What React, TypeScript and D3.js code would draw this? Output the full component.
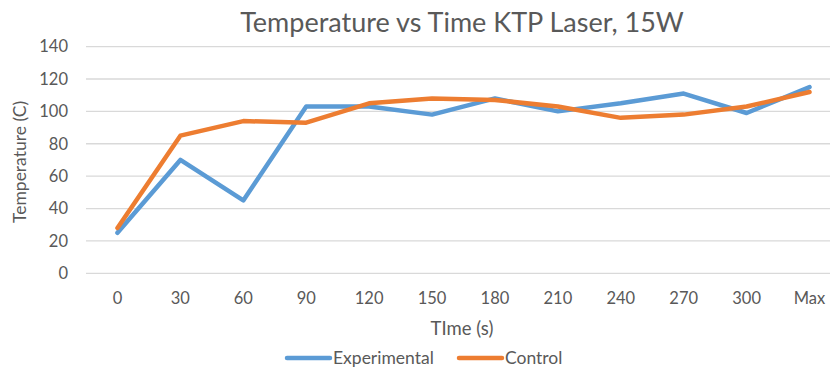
import { useRef, useEffect } from "react";
import * as d3 from "d3";

const categories = ["0", "30", "60", "90", "120", "150", "180", "210", "240", "270", "300", "Max"];
const experimental = [25, 70, 45, 103, 103, 98, 108, 100, 105, 111, 99, 115];
const control = [28, 85, 94, 93, 105, 108, 107, 103, 96, 98, 103, 112];
const yTicks = [0, 20, 40, 60, 80, 100, 120, 140];

const W = 830,
  H = 368;
const FONT = "Lato, 'Open Sans', sans-serif";
const TEXT = "#595959";

export default function App() {
  const ref = useRef<SVGSVGElement>(null);

  useEffect(() => {
    if (!ref.current) return;
    const svg = d3.select(ref.current);
    svg.selectAll("*").remove();

    const L = 86,
      R = 841,
      T = 46.6,
      B = 273.3;

    const x = d3.scaleBand().domain(categories).range([L, R]);
    const y = d3.scaleLinear().domain([0, 140]).range([B, T]);
    const cx = (c: string) => (x(c) as number) + x.bandwidth() / 2;

    // grid
    svg
      .append("g")
      .selectAll("line")
      .data(yTicks)
      .join("line")
      .attr("x1", L)
      .attr("x2", R)
      .attr("y1", (d) => y(d))
      .attr("y2", (d) => y(d))
      .attr("stroke", "#d9d9d9")
      .attr("stroke-width", 1.3);

    svg
      .append("g")
      .selectAll("text")
      .data(yTicks)
      .join("text")
      .attr("x", 68)
      .attr("y", (d) => y(d))
      .attr("dy", "0.35em")
      .attr("text-anchor", "end")
      .attr("font-family", FONT)
      .attr("font-size", 16.5)
      .attr("fill", TEXT)
      .text((d) => d);

    svg
      .append("g")
      .selectAll("text")
      .data(categories)
      .join("text")
      .attr("x", (d) => cx(d))
      .attr("y", 304)
      .attr("text-anchor", "middle")
      .attr("font-family", FONT)
      .attr("font-size", 16.5)
      .attr("fill", TEXT)
      .text((d) => d);

    const line = d3
      .line<number>()
      .x((_, i) => cx(categories[i]))
      .y((d) => y(d));

    const series = [
      { name: "Experimental", values: experimental, color: "#5b9bd5" },
      { name: "Control", values: control, color: "#ed7d31" },
    ];

    series.forEach((s) => {
      svg
        .append("path")
        .attr("d", line(s.values))
        .attr("fill", "none")
        .attr("stroke", s.color)
        .attr("stroke-width", 4.5)
        .attr("stroke-linejoin", "round")
        .attr("stroke-linecap", "round");
    });

    // titles
    svg
      .append("text")
      .attr("x", 462)
      .attr("y", 32)
      .attr("text-anchor", "middle")
      .attr("font-family", FONT)
      .attr("font-size", 27)
      .attr("fill", TEXT)
      .text("Temperature vs Time KTP Laser, 15W");

    svg
      .append("text")
      .attr("transform", `translate(26,${(T + B) / 2 + 2}) rotate(-90)`)
      .attr("text-anchor", "middle")
      .attr("font-family", FONT)
      .attr("font-size", 17.5)
      .attr("fill", TEXT)
      .text("Temperature (C)");

    svg
      .append("text")
      .attr("x", 462)
      .attr("y", 335)
      .attr("text-anchor", "middle")
      .attr("font-family", FONT)
      .attr("font-size", 18.5)
      .attr("fill", TEXT)
      .text("TIme (s)");

    // legend
    const lg = svg.append("g");
    const legendPos = [287, 459];
    series.forEach((s, i) => {
      const lx = legendPos[i];
      lg.append("line")
        .attr("x1", lx)
        .attr("x2", lx + 43)
        .attr("y1", 358)
        .attr("y2", 358)
        .attr("stroke", s.color)
        .attr("stroke-width", 4.5)
        .attr("stroke-linecap", "round");
      lg.append("text")
        .attr("x", lx + 46)
        .attr("y", 358)
        .attr("dy", "0.35em")
        .attr("font-family", FONT)
        .attr("font-size", 17.5)
        .attr("fill", TEXT)
        .text(s.name);
    });
  }, []);

  return (
    <svg
      ref={ref}
      width={W}
      height={H}
      style={{ display: "block", position: "absolute", left: 0, top: 0, background: "#fff" }}
    />
  );
}
